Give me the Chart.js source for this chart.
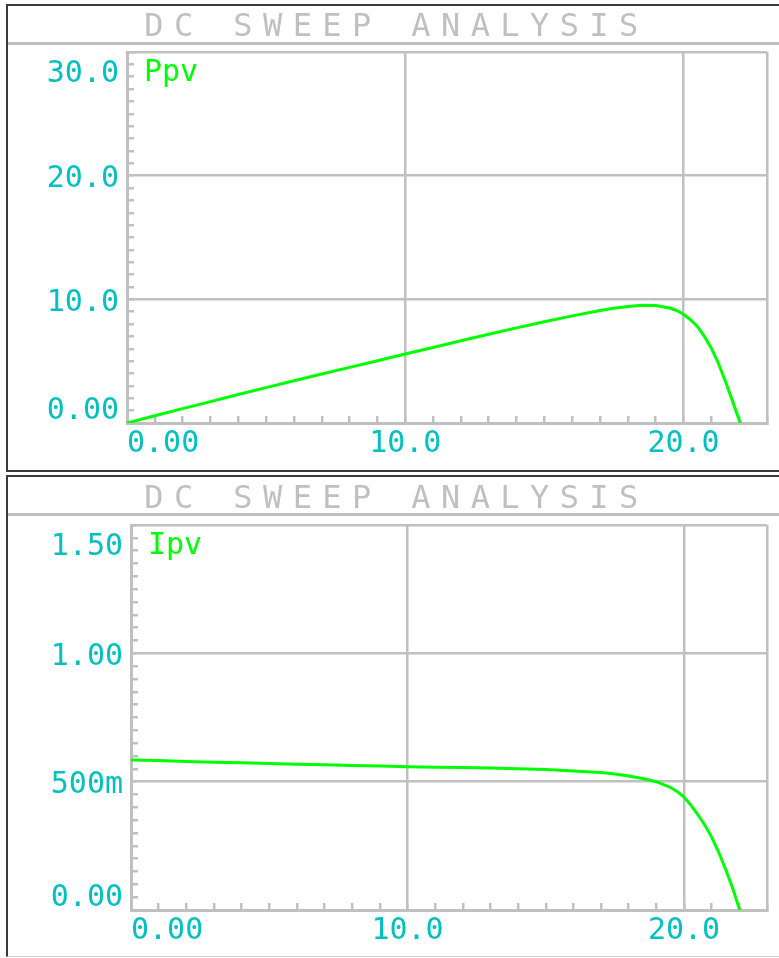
<!DOCTYPE html>
<html>
<head>
<meta charset="utf-8">
<title>DC Sweep Analysis</title>
<script src="https://cdn.jsdelivr.net/npm/chart.js@4.4.1/dist/chart.umd.min.js"></script>
<style>
  html, body { margin: 0; padding: 0; background: #fff; }
  body { width: 779px; height: 958px; position: relative; overflow: hidden; }
  .panel { position: absolute; left: 6px; width: 790px; box-sizing: border-box;
           border: 2px solid #3a3a3a; border-right: none; }
  #panel1 { top: 4px; height: 468px; }
  #panel2 { top: 475px; height: 482px; border-bottom: 1px solid #d0d0d0; }
  canvas { position: absolute; }
  #c1 { left: 8px; top: 6px; }
  #c2 { left: 8px; top: 477px; }
  .sep { position: absolute; left: 8px; width: 771px; height: 3px; background: #c0c0c0; }
</style>
</head>
<body>
<div class="panel" id="panel1"></div>
<div class="panel" id="panel2"></div>
<div class="sep" style="top:42px"></div>
<div class="sep" style="top:513px"></div>
<canvas id="c1" width="771" height="464"></canvas>
<canvas id="c2" width="771" height="479"></canvas>
<script>
// sweep values
const voltage = [0, 1, 2, 3, 4, 5, 6, 7, 8, 9, 10, 11, 12, 13, 14, 15, 16, 17, 17.5,
                 18, 18.5, 19, 19.5, 19.75, 20, 20.25, 20.5, 20.75, 21, 21.25, 21.5, 21.75,
                 22, 22.04];
const ppv = [0, 0.58, 1.16, 1.73, 2.30, 2.86, 3.41, 3.96, 4.50, 5.04, 5.58, 6.11, 6.65, 7.18,
             7.69, 8.19, 8.66, 9.10, 9.28, 9.42, 9.52, 9.50, 9.30, 9.10, 8.79, 8.35, 7.80,
             7.00, 6.05, 4.85, 3.40, 1.85, 0.25, 0];
const ipv = [0.584, 0.582, 0.579, 0.576, 0.574, 0.571, 0.568, 0.566, 0.563, 0.561, 0.558,
             0.556, 0.555, 0.553, 0.550, 0.547, 0.542, 0.536, 0.530, 0.522, 0.512, 0.500,
             0.478, 0.462, 0.440, 0.408, 0.372, 0.331, 0.284, 0.226, 0.16, 0.088, 0.005, 0];

const xTickValues = [0, 10, 20];
const xTickText = ['0.00', '10.0', '20.0'];
const ppvTickValues = [0, 10, 20, 30];
const ppvTickText = ['0.00', '10.0', '20.0', '30.0'];
const ipvTickValues = [0, 0.5, 1.0, 1.5];
const ipvTickText = ['0.00', '500m', '1.00', '1.50'];

const titleText = 'DC SWEEP ANALYSIS';
const GRAY = '#c0c0c0';
const CYAN = '#00c0c0';
const GREEN = '#00ff00';
const MONO = '"DejaVu Sans Mono", "Liberation Mono", monospace';

function findTick(list, value) {
    return list.findIndex(v => Math.abs(v - value) < 1e-6);
}

// blank lines around a label nudge it up or down (label line height is 4px)
function padLines(text, before, after) {
    const out = [];
    for (let i = 0; i < before; i++) out.push('');
    out.push(text);
    for (let i = 0; i < after; i++) out.push('');
    return out;
}

// wide spacing for the title letters
const titleSpacing = {
    id: 'titleSpacing',
    beforeDraw(chart) {
        const t = chart.titleBlock;
        if (t && !t._spaced) {
            const orig = t.draw.bind(t);
            t.draw = function () {
                chart.ctx.save();
                chart.ctx.letterSpacing = '10.4px';
                chart.ctx.translate(9, 0);
                orig();
                chart.ctx.restore();
            };
            t._spaced = true;
        }
    }
};

// trace name written inside the plot, top left
const innerLegend = {
    id: 'innerLegend',
    afterDatasetsDraw(chart) {
        const { ctx, chartArea } = chart;
        ctx.save();
        ctx.font = '30px ' + MONO;
        ctx.fillStyle = GREEN;
        ctx.textBaseline = 'alphabetic';
        chart.data.datasets.forEach((ds, i) => {
            ctx.fillText(ds.label, chartArea.left + 17, chartArea.top + 29 + i * 33);
        });
        ctx.restore();
    }
};

function makePanel(canvasId, cfg) {
    const ctx = document.getElementById(canvasId).getContext('2d');
    const yMajor = cfg.yTickValues;
    const xMajor = xTickValues.concat([23]);

    return new Chart(ctx, {
        type: 'line',
        data: {
            datasets: [{
                label: cfg.label,
                data: voltage.map((v, i) => ({ x: v, y: cfg.values[i] })),
                borderColor: GREEN,
                borderWidth: 3,
                pointRadius: 0,
                tension: 0,
                fill: false
            }]
        },
        options: {
            responsive: false,
            animation: false,
            layout: { padding: { left: 0, top: 0, right: 12, bottom: 0 } },
            plugins: {
                legend: { display: false },
                tooltip: { enabled: false },
                title: {
                    display: true,
                    text: titleText,
                    color: GRAY,
                    font: { family: MONO, size: 32, weight: 'normal', lineHeight: 1 },
                    padding: cfg.titlePadding
                }
            },
            scales: {
                x: {
                    type: 'linear',
                    min: 0,
                    max: 23,
                    afterFit: s => { s.height = cfg.xHeight; s.paddingLeft = 0; s.paddingRight = 0; },
                    border: { color: GRAY, width: 3 },
                    grid: {
                        color: c => (c.tick && findTick(xMajor, c.tick.value) >= 0) ? GRAY : 'rgba(0,0,0,0)',
                        tickColor: GRAY,
                        lineWidth: 2.5,
                        tickLength: -7
                    },
                    ticks: {
                        stepSize: 1,
                        autoSkip: false,
                        maxRotation: 0,
                        align: 'inner',
                        padding: 12,
                        color: CYAN,
                        font: { family: MONO, size: 30, lineHeight: '33px' },
                        callback: value => {
                            const i = findTick(xTickValues, value);
                            return i < 0 ? '' : xTickText[i];
                        }
                    }
                },
                y: {
                    type: 'linear',
                    min: 0,
                    max: cfg.yMax,
                    afterFit: s => { s.width = cfg.yWidth; s.paddingTop = 0; s.paddingBottom = 0; },
                    border: { color: GRAY, width: 3 },
                    grid: {
                        color: c => (c.tick && findTick(yMajor, c.tick.value) >= 0) ? GRAY : 'rgba(0,0,0,0)',
                        tickColor: GRAY,
                        lineWidth: 2.5,
                        tickLength: -7
                    },
                    ticks: {
                        stepSize: cfg.yStep,
                        autoSkip: false,
                        padding: 15,
                        color: CYAN,
                        font: { family: MONO, size: 30, lineHeight: '4px' },
                        callback: value => {
                            const i = findTick(cfg.yTickValues, value);
                            if (i < 0) return '';
                            if (i === 0) return padLines(cfg.yTickText[i], 0, 6);
                            if (Math.abs(value - cfg.yMax) < 1e-6) return padLines(cfg.yTickText[i], 11, 0);
                            return padLines(cfg.yTickText[i], 2, 0);
                        }
                    }
                }
            }
        },
        plugins: [titleSpacing, innerLegend]
    });
}

const chart1 = makePanel('c1', {
    label: 'Ppv',
    values: ppv,
    yMax: 30,
    yStep: 1,
    yTickValues: ppvTickValues,
    yTickText: ppvTickText,
    yWidth: 119,
    xHeight: 47,
    titlePadding: { top: 6, bottom: 8 }
});

const chart2 = makePanel('c2', {
    label: 'Ipv',
    values: ipv,
    yMax: 1.5,
    yStep: 0.05,
    yTickValues: ipvTickValues,
    yTickText: ipvTickText,
    yWidth: 123,
    xHeight: 46,
    titlePadding: { top: 7, bottom: 9 }
});

chart1.draw();
chart2.draw();
</script>
</body>
</html>
